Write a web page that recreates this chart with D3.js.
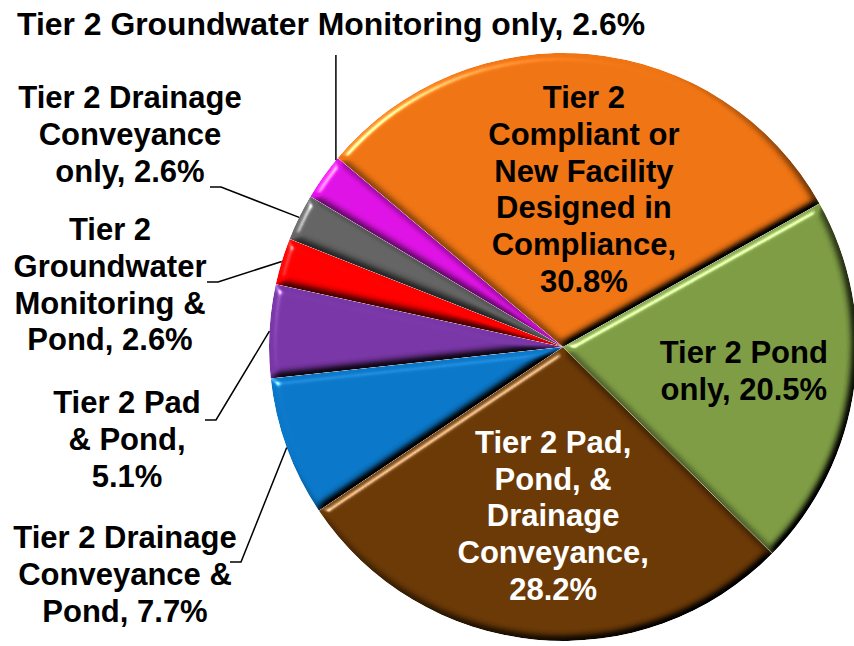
<!DOCTYPE html>
<html>
<head>
<meta charset="utf-8">
<script src="https://cdn.jsdelivr.net/npm/d3@7"></script>
<style>
  html, body { margin: 0; padding: 0; background: #fff; }
  svg text { font-family: "Liberation Sans", Arial, sans-serif; font-weight: bold; font-size: 31px; }
</style>
</head>
<body>
<div id="chart"></div>
<script>
// data (counts out of 39)
var categories = [
  "Tier 2 Compliant or New Facility Designed in Compliance",
  "Tier 2 Pond only",
  "Tier 2 Pad, Pond, & Drainage Conveyance",
  "Tier 2 Drainage Conveyance & Pond",
  "Tier 2 Pad & Pond",
  "Tier 2 Groundwater Monitoring & Pond",
  "Tier 2 Drainage Conveyance only",
  "Tier 2 Groundwater Monitoring only"
];
var counts = [12, 8, 11, 3, 2, 1, 1, 1];
var percents = ["30.8%", "20.5%", "28.2%", "7.7%", "5.1%", "2.6%", "2.6%", "2.6%"];
var labelLines = [
  ["Tier 2", "Compliant or", "New Facility", "Designed in", "Compliance,", "30.8%"],
  ["Tier 2 Pond", "only, 20.5%"],
  ["Tier 2 Pad,", "Pond, &", "Drainage", "Conveyance,", "28.2%"],
  ["Tier 2 Drainage", "Conveyance &", "Pond, 7.7%"],
  ["Tier 2 Pad", "& Pond,", "5.1%"],
  ["Tier 2", "Groundwater", "Monitoring &", "Pond, 2.6%"],
  ["Tier 2 Drainage", "Conveyance", "only, 2.6%"],
  ["Tier 2 Groundwater Monitoring only, 2.6%"]
];
var colors = ["#EF7413", "#7E9C44", "#6B3906", "#0A77C8", "#7936A6", "#FF0000", "#646464", "#DF12E5"];

var width = 854, height = 646;
var cx = 563, cy = 347, radius = 294;
var lineH = 36.8, capH = 22;

var svg = d3.select("#chart").append("svg")
  .attr("width", width)
  .attr("height", height);

// bevel filter so each slice looks like the raised office style
var defs = svg.append("defs");
var f = defs.append("filter").attr("id", "bevel")
  .attr("color-interpolation-filters", "sRGB")
  .attr("x", "-5%").attr("y", "-5%").attr("width", "110%").attr("height", "110%");
f.append("feGaussianBlur").attr("in", "SourceAlpha").attr("stdDeviation", 4).attr("result", "blur");
f.append("feDiffuseLighting").attr("in", "blur").attr("surfaceScale", 6)
  .attr("diffuseConstant", 1.414).attr("lighting-color", "#fff").attr("result", "diff")
  .append("feDistantLight").attr("azimuth", 225).attr("elevation", 45);
f.append("feComposite").attr("in", "SourceGraphic").attr("in2", "diff")
  .attr("operator", "arithmetic").attr("k1", 1).attr("k2", 0).attr("k3", 0).attr("k4", 0)
  .attr("result", "shaded");
f.append("feSpecularLighting").attr("in", "blur").attr("surfaceScale", 6)
  .attr("specularConstant", 0.8).attr("specularExponent", 40)
  .attr("lighting-color", "#fff").attr("result", "spec")
  .append("feDistantLight").attr("azimuth", 225).attr("elevation", 30);
f.append("feComposite").attr("in", "spec").attr("in2", "SourceAlpha")
  .attr("operator", "in").attr("result", "specIn");
f.append("feComposite").attr("in", "shaded").attr("in2", "specIn")
  .attr("operator", "arithmetic").attr("k1", 0).attr("k2", 1).attr("k3", 0.8).attr("k4", 0)
  .attr("result", "lit");
f.append("feComposite").attr("in", "lit").attr("in2", "SourceAlpha").attr("operator", "in");

var startDeg = -50;
var pie = d3.pie().sort(null).value(function (d) { return d; })
  .startAngle(startDeg * Math.PI / 180)
  .endAngle(startDeg * Math.PI / 180 + 2 * Math.PI);
var arcs = pie(counts);

var arc = d3.arc().innerRadius(0).outerRadius(radius);

var g = svg.append("g").attr("transform", "translate(" + cx + "," + cy + ")");

g.selectAll("path.slice")
  .data(arcs)
  .join("path")
  .attr("class", "slice")
  .attr("d", arc)
  .attr("fill", function (d, i) { return colors[i]; })
  .attr("filter", "url(#bevel)");

function polar(a, r) {
  return [cx + r * Math.sin(a), cy - r * Math.cos(a)];
}

function drawBlock(lines, x, midY, fill) {
  var t = svg.append("text").attr("text-anchor", "middle").attr("fill", fill);
  var n = lines.length;
  lines.forEach(function (s, k) {
    t.append("tspan").attr("x", x)
      .attr("y", midY - (n - 1) * lineH / 2 + k * lineH + capH / 2)
      .text(s);
  });
}

// labels inside the three big slices
var insideK = [0.54, 0.6, 0.575];
var insideFill = ["#000", "#000", "#fff"];
[0, 1, 2].forEach(function (i) {
  var d = arcs[i];
  var mid = (d.startAngle + d.endAngle) / 2;
  var p = polar(mid, radius * insideK[i]);
  drawBlock(labelLines[i], p[0] + 6, p[1], insideFill[i]);
});

// outside labels with leader lines (center x, first baseline, leader start)
var outside = [
  { i: 3, x: 125, y0: 548, lx: 230, ly: 562 },
  { i: 4, x: 127, y0: 413, lx: 205, ly: 420 },
  { i: 5, x: 110, y0: 240, lx: 207, ly: 282 },
  { i: 6, x: 130, y0: 108, lx: 210, ly: 187 }
];
var leader = svg.append("g").attr("fill", "none").attr("stroke", "#000").attr("stroke-width", 1.5);

outside.forEach(function (o) {
  var t = svg.append("text").attr("text-anchor", "middle").attr("fill", "#000");
  labelLines[o.i].forEach(function (s, k) {
    t.append("tspan").attr("x", o.x).attr("y", o.y0 + k * lineH).text(s);
  });
  var d = arcs[o.i];
  var p = polar((d.startAngle + d.endAngle) / 2, radius);
  leader.append("polyline")
    .attr("points", [[o.lx, o.ly], [o.lx + 11, o.ly], p].map(function (q) { return q.join(","); }).join(" "));
});

// top label for the last small slice
var last = arcs[7];
var tp = polar(last.endAngle - 0.01, radius);
svg.append("text").attr("text-anchor", "middle").attr("fill", "#000")
  .attr("x", 331).attr("y", 35)
  .attr("textLength", 628).attr("lengthAdjust", "spacingAndGlyphs")
  .text(labelLines[7][0]);
leader.append("line")
  .attr("x1", tp[0]).attr("y1", 55)
  .attr("x2", tp[0]).attr("y2", tp[1]);
</script>
</body>
</html>
